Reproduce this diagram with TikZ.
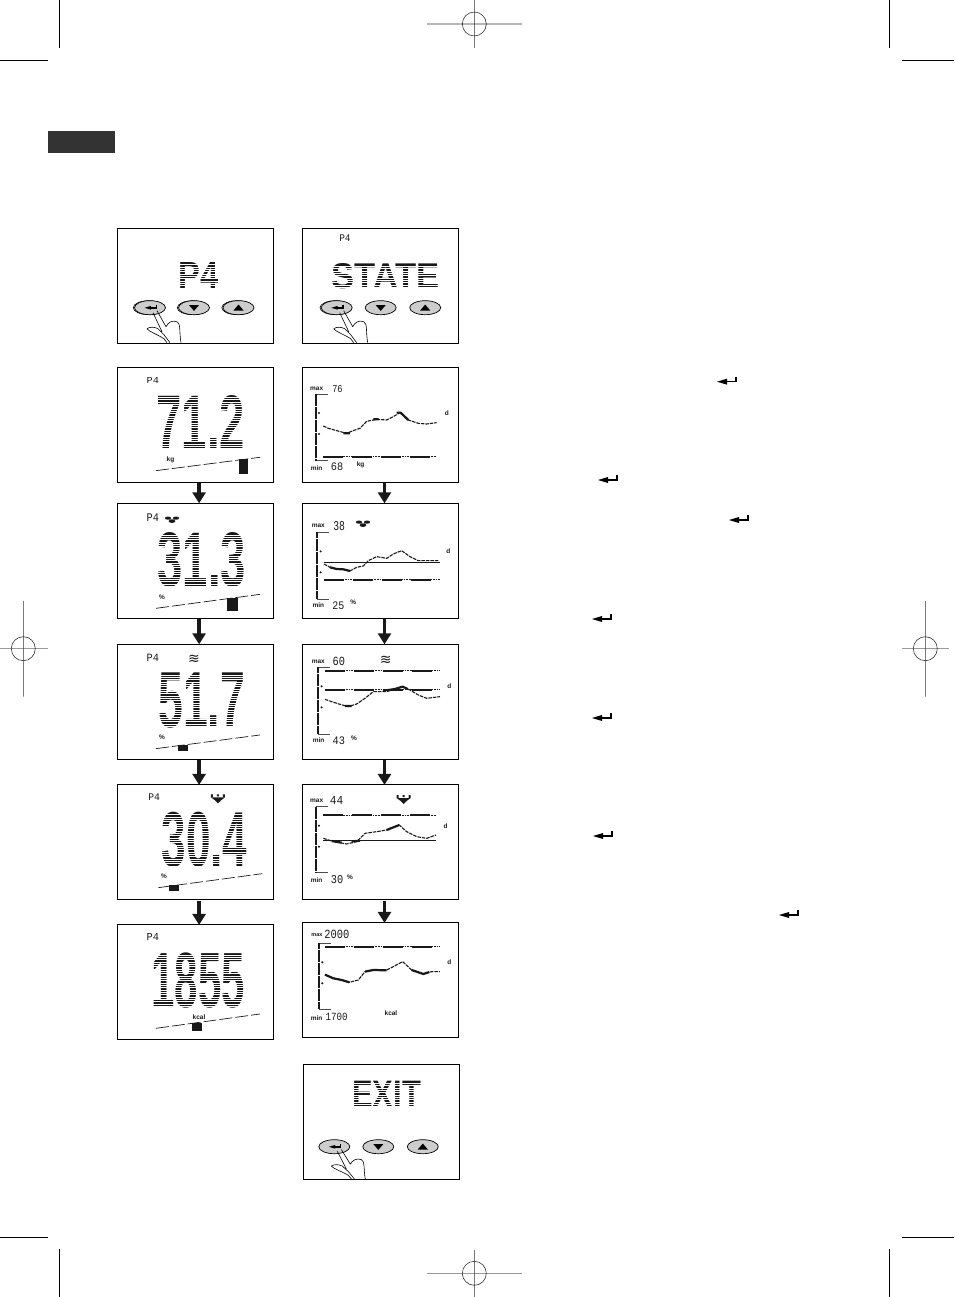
\documentclass[tikz,border=0pt]{standalone}
\usepackage{fontspec}
\setmainfont{Liberation Sans}
\newfontfamily\thinfont{Liberation Mono}
\newfontfamily\markfont{DejaVu Sans}
\usetikzlibrary{shapes.geometric,arrows.meta,positioning}
\definecolor{tabgrey}{RGB}{51,51,51}
\definecolor{keygrey}{RGB}{205,205,205}
\definecolor{lcdink}{RGB}{25,25,25}
% LCD text fitted into a box given in zoom units (three per pixel)
\newcommand{\lcdval}[7][\normalfont]{%
  \pgfmathsetlengthmacro{\lcdw}{(#4-#2)/3}\pgfmathsetlengthmacro{\lcdh}{(#5-#3)/3}%
  \node[lcd] (#6) at (#2,#3) {\resizebox{\lcdw}{\lcdh}{#1\relax #7}};}
\newcommand{\lcdsmall}[6]{\lcdval[\thinfont]{#1}{#2}{#3}{#4}{#5}{#6}}
% big reading, striped like the display cells
\newcommand{\lcdbig}[6]{%
  \lcdval[\bfseries]{#1}{#2}{#3}{#4}{#5}{#6}
  \pgfmathsetmacro{\stripea}{#2+7}\pgfmathsetmacro{\stripeb}{#2+14}
  \foreach \ys in {\stripea,\stripeb,...,#4}
    \draw[stripe] (#1-3,\ys) -- (#3+3,\ys);}
\newcommand{\slider}[4]{\fill[lcdink] (#1,#2) rectangle (#3,#4);}
% frame of one chart
\newcommand{\chartaxis}[3]{%
  \draw[axisthin] (#1+36,#2) -- (#1,#2) (#1,#3) -- (#1+36,#3);
  \draw[axisthick] (#1,#2) -- (#1,#3);
  \fill[lcdink] (#1+10,#2+57) circle (3.5) (#1+10,#2+120) circle (3.5);}
\begin{document}
\begin{tikzpicture}[x=1pt,y=-1pt,
  every node/.style={inner sep=0pt,outer sep=0pt},
  screen/.style={draw=black,line width=1.1pt,minimum width=156pt,minimum height=115pt},
  flow/.style={-{Triangle[length=11pt,width=13pt]},line width=3.6pt,draw=lcdink},
  lcd/.style={anchor=north west,text=lcdink},
  stripe/.style={draw=white,line width=.9pt},
  tag/.style={font=\fontsize{6.5}{7}\selectfont\bfseries,text=lcdink},
  beam/.style={line width=.7pt,draw=lcdink,dash pattern=on 13pt off 3pt},
  axisthin/.style={line width=.6pt,draw=black!70},
  axisthick/.style={line width=2pt,draw=lcdink,dash pattern=on 6pt off .5pt},
  rule/.style={line width=1.8pt,draw=lcdink,dash pattern=on 20pt off 9pt,
    preaction={draw=lcdink,line width=1.4pt,dash pattern=on 1pt off .6pt}},
  curve/.style={line width=1.1pt,draw=lcdink,dash pattern=on 3.5pt off 1pt,line join=round},
  heavy/.style={line width=2.2pt,draw=lcdink,line join=round},
  crop/.style={line width=.9pt,draw=black},
  reg/.style={line width=.6pt,draw=black!80},
  regfaint/.style={line width=.8pt,draw=black!40},
  keycap/.style={ellipse,draw=black,line width=.7pt,fill=keygrey,minimum width=31pt,minimum height=14pt},
  keyback/.style={ellipse,draw=black,line width=.6pt,fill=white,minimum width=31pt,minimum height=14pt},
  enterkey/.pic={
    \fill[black] (-20,5) -- (-10,2) -- (-10,8) -- cycle;
    \draw[line width=1.5pt,black] (-1,0) -- (-1,5) -- (-11,5);},
  hand/.pic={
    \draw[line width=.6pt,black,line join=round]
      (3,5) -- (12,24) (7,3) -- (16,19) .. controls (18,15) and (22,12) .. (27,14)
      .. controls (31,16) and (29,24) .. (31,35)
      (-3,21) .. controls (0,19) and (4,19) .. (8,21) -- (14,27) -- (20,35)
      (-3,21) .. controls (-1,24) and (6,26) .. (14,31) -- (17,35);},
  keypad/.pic={
    \node[keycap] (enter) at (0,0) {};
    \node[keycap] (down) at (44,0) {};
    \node[keycap] (up) at (88.5,0) {};
    \pic[scale=.62] at (7,-3) {enterkey};
    \fill[black] (39,-2.6) -- (49,-2.6) -- (44,3.2) -- cycle;
    \fill[black] (83.5,2.8) -- (93.5,2.8) -- (88.5,-3.2) -- cycle;},
  fatmark/.pic={
    \fill[lcdink] (-4,-1.2) ellipse (3.2 and 1.6) (4,-1.2) ellipse (3.2 and 1.6) (0,1.8) ellipse (3.4 and 1.8);},
  musclemark/.pic={
    \fill[lcdink] (-7,-4) rectangle (-5,-1) (5,-4) rectangle (7,-1) (-1,-4) rectangle (1,-2);
    \fill[lcdink] (-7,-1) -- (7,-1) -- (3,2) -- (0,5) -- (-3,2) -- cycle;}]
\useasboundingbox (0,0) rectangle (954,1297);

% left column of screens
\node[screen,anchor=north west] (pfour) at (117.3,228.3) {};
\node[screen,below=24pt of pfour] (weight) {};
\node[screen,below=21pt of weight] (fat) {};
\node[screen,below=26pt of fat] (water) {};
\node[screen,below=25.6pt of water] (muscle) {};
\node[screen,below=25pt of muscle] (energy) {};
% right column of screens
\node[screen,anchor=north west] (state) at (302.7,228.3) {};
\node[screen,below=24pt of state] (wchart) {};
\node[screen,below=21pt of wchart] (fchart) {};
\node[screen,below=26pt of fchart] (tchart) {};
\node[screen,below=25.6pt of tchart] (mchart) {};
\node[screen,below=23pt of mchart] (echart) {};
\node[screen,anchor=north west] (exit) at (303.3,1064.3) {};

% arrows
\foreach \a/\b in {weight/fat,fat/water,water/muscle,muscle/energy,wchart/fchart,fchart/tchart,tchart/mchart,mchart/echart}
  \draw[flow] ([xshift=3.8pt,yshift=-1pt]\a.south) -- ([xshift=3.8pt]\b.north);

% printer marks
\fill[tabgrey] (48,131) rectangle (115,153);
\draw[crop] (59.5,0) -- (59.5,48) (0,60.5) -- (48,60.5);
\draw[crop] (889.5,0) -- (889.5,48) (902,60.5) -- (954,60.5);
\draw[crop] (59.5,1249) -- (59.5,1297) (0,1237) -- (48,1237);
\draw[crop] (889.5,1249) -- (889.5,1297) (902,1237) -- (954,1237);
\draw[reg] (474.3,24) circle (12) (474.3,0) -- (474.3,48) (427,24) -- (522,24);
\draw[regfaint] (427,1273.3) -- (522,1273.3);
\draw[reg] (474.3,1273.3) circle (12) (474.3,1250) -- (474.3,1297);
\draw[regfaint] (0,648.7) -- (48,648.7);
\draw[reg] (23.3,648.7) circle (12) (23.3,601) -- (23.3,696.7);
\draw[regfaint] (901.7,648.7) -- (949,648.7);
\draw[reg] (925.3,648.7) circle (12) (925.3,601) -- (925.3,696.7);

% enter keys in the margin
\pic at (737,376.7) {enterkey};
\pic at (618,475) {enterkey};
\pic at (749,515) {enterkey};
\pic at (612,614) {enterkey};
\pic at (612,713) {enterkey};
\pic at (613,831) {enterkey};
\pic at (799,910) {enterkey};

% keypads
\node[keyback] (bkenter) at (148.8,307.7) {};
\node[keyback] (bkdown) at (192.8,307.7) {};
\node[keyback] (bkup) at (237.3,307.7) {};
\node[keyback] (bkstate) at (335.5,307.7) {};
\pic (pa) at (150,307.7) {keypad};
\pic (pb) at (336.7,307.7) {keypad};
\pic (pc) at (334.3,1146.7) {keypad};
\pic at (150,307.7) {hand};
\pic at (336.7,307.7) {hand};
\pic[yscale=.92] at (334.3,1146.7) {hand};

% first row and exit
\begin{scope}[shift={(110,220)},scale=.3333]
  \lcdbig{205}{127}{325}{205}{bigpfour}{P4}
  \lcdbig{665}{132}{990}{207}{bigstate}{STATE}
  \lcdsmall{688}{45}{722}{65}{tagstate}{P4}
  % weight
  \lcdsmall{110}{472}{147}{490}{tagweight}{P4}
  \lcdbig{140}{525}{405}{687}{valweight}{71.2}
  \node[tag,anchor=west] (ukg) at (170,719) {kg};
  \draw[beam] (138,752) -- (450,712);
  \slider{388}{717}{415}{762}
  % weight chart
  \node[tag] (maxw) at (620,507) {max};
  \lcdsmall{667}{497}{698}{518}{topw}{76}
  \chartaxis{617}{522}{722}
  \node[tag] (dw) at (1011,580) {d};
  \node[tag] (minw) at (620,744) {min};
  \lcdsmall{663}{730}{700}{753}{lowb}{68}
  \node[tag] (uw) at (752,734) {kg};
  \draw[curve] (640,618) -- (655,625) -- (680,632) -- (710,640) -- (730,632) -- (750,625) -- (770,604)
    -- (800,598) -- (830,600) -- (850,590) -- (870,578) -- (895,600) -- (925,610) -- (950,612) -- (980,608);
  \draw[heavy] (700,640) -- (720,640) (790,598) -- (806,598) (860,578) -- (872,578) -- (895,600);
  \draw[rule] (640,710) -- (980,710);
\end{scope}

\begin{scope}[shift={(110,490)},scale=.3333]
  % fat
  \lcdsmall{110}{72}{147}{95}{tagfat}{P4}
  \pic at (186,88) {fatmark};
  \lcdbig{143}{128}{408}{290}{valfat}{31.3}
  \node[tag] (ufat) at (156,321) {\%};
  \draw[beam] (138,355) -- (450,313);
  \slider{352}{325}{383}{362}
  % fat chart
  \node[tag] (maxf) at (625,107) {max};
  \lcdsmall{670}{95}{705}{122}{topf}{38}
  \pic at (759,100) {fatmark};
  \chartaxis{622}{127}{327}
  \node[tag] (df) at (1015,184) {d};
  \node[tag] (minf) at (625,346) {min};
  \lcdsmall{667}{337}{703}{360}{lowf}{25}
  \node[tag] (uf) at (730,337) {\%};
  \draw[curve] (642,222) -- (660,232) -- (680,237) -- (700,238) -- (720,243) -- (740,232) -- (760,228)
    -- (775,212) -- (800,200) -- (830,205) -- (850,192) -- (875,182) -- (900,200) -- (925,212) -- (950,212) -- (985,212);
  \draw[heavy] (660,232) -- (680,237) -- (700,238) -- (720,243);
  \draw[line width=.8pt,lcdink] (642,217) -- (990,217);
  \draw[rule] (642,269) -- (990,269);
  % water
  \lcdsmall{110}{493}{147}{515}{tagwater}{P4}
  \node[lcd,anchor=center,font=\markfont\fontsize{14}{14}\selectfont] (wavel) at (252,507) {≋};
  \lcdbig{145}{548}{405}{712}{valwater}{51.7}
  \node[tag] (uwater) at (156,742) {\%};
  \draw[beam] (138,776) -- (450,735);
  \slider{205}{765}{233}{783}
  % water chart
  \node[tag] (maxt) at (625,514) {max};
  \lcdsmall{668}{503}{705}{528}{topt}{60}
  \node[lcd,anchor=center,font=\markfont\fontsize{14}{14}\selectfont] (waver) at (827,511) {≋};
  \chartaxis{625}{532}{732}
  \node[tag] (dt) at (1018,590) {d};
  \node[tag] (mint) at (626,751) {min};
  \lcdsmall{668}{742}{705}{765}{lowt}{43}
  \node[tag] (ut) at (732,744) {\%};
  \draw[curve] (645,628) -- (665,635) -- (690,643) -- (715,650) -- (740,642) -- (765,625) -- (790,605)
    -- (830,605) -- (855,597) -- (878,590) -- (900,600) -- (925,615) -- (950,625) -- (990,620);
  \draw[heavy] (705,648) -- (725,648) (830,601) -- (855,597) -- (878,590) -- (893,597);
  \draw[rule] (645,542) -- (990,542);
  \draw[rule] (645,599) -- (990,599);
\end{scope}

\begin{scope}[shift={(110,770)},scale=.3333]
  % muscle
  \lcdsmall{115}{72}{150}{92}{tagmuscle}{P4}
  \pic at (324,85) {musclemark};
  \lcdbig{155}{127}{412}{290}{valmuscle}{30.4}
  \node[tag] (umuscle) at (162,319) {\%};
  \draw[beam] (145,353) -- (457,311);
  \slider{178}{346}{207}{362}
  % muscle chart
  \node[tag] (maxm) at (620,91) {max};
  \lcdsmall{660}{78}{700}{102}{topm}{44}
  \pic at (881,87) {musclemark};
  \chartaxis{617}{110}{308}
  \node[tag] (dm) at (1007,168) {d};
  \node[tag] (minm) at (620,329) {min};
  \lcdsmall{663}{318}{700}{342}{lowm}{30}
  \node[tag] (um) at (720,321) {\%};
  \draw[curve] (640,205) -- (665,213) -- (690,218) -- (710,222) -- (740,215) -- (765,190) -- (800,185)
    -- (830,180) -- (868,165) -- (890,185) -- (920,200) -- (950,205) -- (978,195);
  \draw[heavy] (665,213) -- (695,218) (725,214) -- (750,212) (830,180) -- (868,165);
  \draw[line width=.8pt,lcdink] (640,211) -- (978,211);
  \draw[rule] (640,136) -- (978,136);
  % energy
  \lcdsmall{110}{492}{147}{513}{tagenergy}{P4}
  \lcdbig{125}{548}{405}{712}{valenergy}{1855}
  \node[tag] (uenergy) at (267,741) {kcal};
  \draw[beam] (138,775) -- (450,732);
  \slider{246}{760}{275}{782}
  % energy chart
  \node[tag,font=\fontsize{5.5}{6}\selectfont\bfseries] (maxe) at (621,494) {max};
  \lcdsmall{643}{480}{718}{505}{tope}{2000}
  \chartaxis{627}{520}{718}
  \node[tag] (de) at (1018,578) {d};
  \node[tag] (mine) at (620,744) {min};
  \lcdsmall{647}{730}{713}{752}{lowe}{1700}
  \node[tag] (ue) at (843,731) {kcal};
  \draw[curve] (645,614) -- (670,625) -- (695,630) -- (718,637) -- (745,630) -- (765,605) -- (790,600)
    -- (830,600) -- (850,590) -- (878,575) -- (905,600) -- (940,612) -- (965,605) -- (990,605);
  \draw[heavy] (645,614) -- (670,625) -- (695,630) -- (718,637) (765,605) -- (790,600) -- (830,601) (905,600) -- (940,612) -- (958,606);
  \draw[rule] (645,530) -- (990,530);
\end{scope}

\begin{scope}[shift={(290,1050)},scale=.3333]
  \lcdbig{187}{93}{393}{172}{bigexit}{EXIT}
\end{scope}
\end{tikzpicture}
\end{document}
